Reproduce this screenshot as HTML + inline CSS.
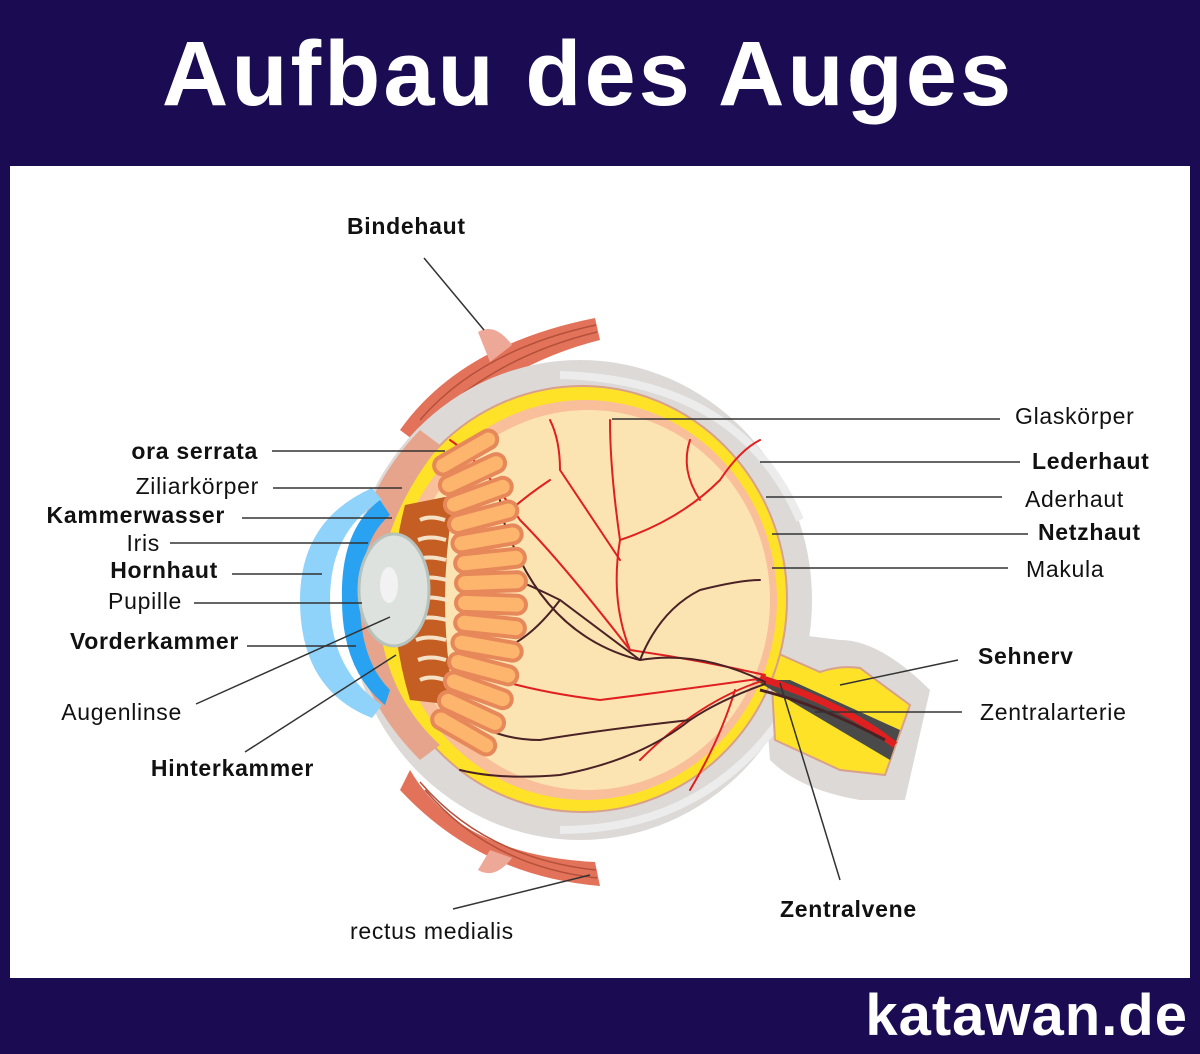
<!DOCTYPE html>
<html><head><meta charset="utf-8"><style>
html,body{margin:0;padding:0;}
body{width:1200px;height:1054px;background:#1b0b52;position:relative;overflow:hidden;font-family:"Liberation Sans",sans-serif;}
.title{position:absolute;left:0;width:1176px;top:22px;text-align:center;color:#fff;font-weight:bold;font-size:92px;letter-spacing:3px;}
.panel{position:absolute;left:10px;top:166px;width:1180px;height:812px;background:#fff;}
.foot{position:absolute;right:12px;top:982px;color:#fff;font-weight:bold;font-size:58px;letter-spacing:1px;}
svg{position:absolute;left:0;top:0;}
</style></head><body>
<div class="title">Aufbau des Auges</div>
<div class="panel"></div>
<div class="foot">katawan.de</div>
<svg width="1200" height="1054" viewBox="0 0 1200 1054" font-family="Liberation Sans, sans-serif" font-size="23" letter-spacing="0.7">
<!-- muscles -->
<path d="M400,430 Q460,345 595,318 L600,340 Q500,365 420,445 Z" fill="#e2735a"/>
<path d="M420,420 Q480,350 596,325 M425,428 Q490,358 597,332" stroke="#b5503a" stroke-width="1.5" fill="none"/>
<path d="M478,332 Q495,322 512,345 L490,362 Z" fill="#eea898"/>
<path d="M410,770 Q460,855 595,862 L600,886 Q480,876 400,790 Z" fill="#e2735a"/>
<path d="M420,782 Q485,858 596,870 M425,790 Q490,866 597,878" stroke="#b5503a" stroke-width="1.5" fill="none"/>
<path d="M478,870 Q495,880 512,858 L490,850 Z" fill="#eea898"/>
<!-- optic nerve sheath -->
<path d="M760,630 L840,640 Q880,640 930,690 L905,800 L860,800 Q800,790 770,760 Z" fill="#dcd9d7"/>
<!-- sclera -->
<ellipse cx="580" cy="600" rx="232" ry="240" fill="#dcd9d7"/>
<path d="M560,375 Q740,380 800,520" stroke="#ececec" stroke-width="8" fill="none"/>
<path d="M780,720 Q700,830 560,830" stroke="#ececec" stroke-width="8" fill="none"/>
<!-- nerve yellow -->
<path d="M770,650 L820,672 Q840,665 860,668 L910,705 L885,775 L840,770 L775,740 Z" fill="#fde228" stroke="#d9a08c" stroke-width="2"/>
<!-- yellow choroid -->
<ellipse cx="582" cy="599" rx="205" ry="213" fill="#fde228" stroke="#d9a08c" stroke-width="2"/>
<ellipse cx="585" cy="600" rx="192" ry="200" fill="#f8bf9a"/>
<ellipse cx="588" cy="600" rx="182" ry="190" fill="#fce4b2"/>
<!-- nerve vessels -->
<path d="M755,680 L790,680 L900,730 L890,760 Z" fill="#4a4a4a"/>
<path d="M760,678 Q800,690 840,710 Q870,725 895,745" stroke="#e02020" stroke-width="7" fill="none"/>
<path d="M760,690 Q820,705 885,740" stroke="#4a2226" stroke-width="3" fill="none"/>
<!-- vessels -->
<g fill="none" stroke-linecap="round">
<g stroke="#e02020" stroke-width="2">
<path d="M765,675 Q700,660 630,650 Q610,600 620,540 Q610,470 610,420"/>
<path d="M630,650 Q560,560 520,520 Q480,460 450,440"/>
<path d="M620,560 Q580,500 560,470 Q560,440 550,420"/>
<path d="M765,680 Q700,700 640,760"/>
<path d="M765,678 Q680,690 600,700 Q520,690 470,670"/>
<path d="M620,540 Q680,520 720,480 Q740,450 760,440"/>
<path d="M700,500 Q680,470 690,440"/>
<path d="M550,480 Q520,500 500,520"/>
<path d="M735,690 Q720,740 690,790"/>
</g>
<g stroke="#4a2226" stroke-width="2">
<path d="M765,682 Q700,650 640,660 Q600,630 560,600 Q520,580 490,570"/>
<path d="M640,660 Q660,610 700,590 Q740,580 760,580"/>
<path d="M765,684 Q720,700 690,720 Q640,760 560,775 Q500,780 460,770"/>
<path d="M690,720 Q600,730 540,740 Q500,740 470,720"/>
<path d="M560,600 Q530,640 500,650"/>
<path d="M640,660 Q560,640 520,560 Q500,520 500,500"/>
</g>
</g>
<!-- ciliary area -->
<path d="M440,445 Q380,520 378,600 Q380,690 440,745 L420,760 Q350,690 350,600 Q352,500 420,430 Z" fill="#e6a48c"/>
<path d="M405,505 Q380,600 410,700 L455,705 Q435,600 455,495 Z" fill="#c45e22"/>
<g stroke="#f5e1c6" stroke-width="4" fill="none">
<path d="M420,520 q10,-5 25,0"/><path d="M418,540 q12,-5 28,0"/><path d="M416,560 q12,-5 30,0"/><path d="M415,580 q12,-5 32,0"/><path d="M415,600 q12,-5 32,0"/><path d="M415,620 q12,-5 32,0"/><path d="M416,640 q12,-5 30,0"/><path d="M418,660 q12,-5 28,0"/><path d="M420,680 q10,-5 25,0"/>
</g>
<!-- rods -->
<g fill="#fdb46c" stroke="#e6885a" stroke-width="4">
<rect x="-40" y="-9" width="70" height="18" rx="9" transform="translate(470,450) rotate(-30)"/>
<rect x="-40" y="-9" width="70" height="18" rx="9" transform="translate(477,472) rotate(-25)"/>
<rect x="-40" y="-9" width="70" height="18" rx="9" transform="translate(483,494) rotate(-20)"/>
<rect x="-40" y="-9" width="70" height="18" rx="9" transform="translate(488,516) rotate(-15)"/>
<rect x="-40" y="-9" width="70" height="18" rx="9" transform="translate(492,538) rotate(-10)"/>
<rect x="-40" y="-9" width="70" height="18" rx="9" transform="translate(495,560) rotate(-6)"/>
<rect x="-40" y="-9" width="70" height="18" rx="9" transform="translate(496,582) rotate(-2)"/>
<rect x="-40" y="-9" width="70" height="18" rx="9" transform="translate(496,604) rotate(2)"/>
<rect x="-40" y="-9" width="70" height="18" rx="9" transform="translate(495,626) rotate(6)"/>
<rect x="-40" y="-9" width="70" height="18" rx="9" transform="translate(492,648) rotate(10)"/>
<rect x="-40" y="-9" width="70" height="18" rx="9" transform="translate(488,670) rotate(15)"/>
<rect x="-40" y="-9" width="70" height="18" rx="9" transform="translate(483,692) rotate(20)"/>
<rect x="-40" y="-9" width="70" height="18" rx="9" transform="translate(476,714) rotate(25)"/>
<rect x="-40" y="-9" width="70" height="18" rx="9" transform="translate(468,735) rotate(30)"/>
</g>
<!-- cornea -->
<path d="M372,488 Q300,520 300,600 Q300,690 372,718 L382,705 Q330,670 330,600 Q330,530 382,500 Z" fill="#8fd3fb"/>
<path d="M380,500 Q340,530 342,600 Q342,670 385,705 L390,690 Q360,660 360,600 Q360,540 390,515 Z" fill="#2aa2f2"/>
<!-- lens -->
<ellipse cx="394" cy="590" rx="35" ry="56" fill="#dde2df" stroke="#b8c2bd" stroke-width="3"/>
<ellipse cx="389" cy="585" rx="9" ry="18" fill="#f2f2f2"/>
<!-- lines -->
<g stroke="#333" stroke-width="1.5">
<line x1="424" y1="258" x2="484" y2="330"/>
<line x1="453" y1="909" x2="590" y2="875"/>
<line x1="272" y1="451" x2="445" y2="451"/>
<line x1="273" y1="488" x2="402" y2="488"/>
<line x1="242" y1="518" x2="392" y2="518"/>
<line x1="170" y1="543" x2="368" y2="543"/>
<line x1="232" y1="574" x2="322" y2="574"/>
<line x1="194" y1="603" x2="362" y2="603"/>
<line x1="247" y1="646" x2="356" y2="646"/>
<line x1="196" y1="704" x2="390" y2="617"/>
<line x1="245" y1="752" x2="396" y2="655"/>
<line x1="612" y1="419" x2="1000" y2="419"/>
<line x1="760" y1="462" x2="1020" y2="462"/>
<line x1="766" y1="497" x2="1002" y2="497"/>
<line x1="772" y1="534" x2="1028" y2="534"/>
<line x1="772" y1="568" x2="1008" y2="568"/>
<line x1="958" y1="660" x2="840" y2="685"/>
<line x1="815" y1="712" x2="962" y2="712"/>
<line x1="780" y1="683" x2="840" y2="880"/>
</g>
<!-- labels -->
<g fill="#111">
<text x="347" y="234" font-weight="bold">Bindehaut</text>
<text x="350" y="939">rectus medialis</text>
<text x="258" y="459" text-anchor="end" font-weight="bold">ora serrata</text>
<text x="259" y="494" text-anchor="end">Ziliarkörper</text>
<text x="225" y="523" text-anchor="end" font-weight="bold">Kammerwasser</text>
<text x="160" y="551" text-anchor="end">Iris</text>
<text x="218" y="578" text-anchor="end" font-weight="bold">Hornhaut</text>
<text x="182" y="609" text-anchor="end">Pupille</text>
<text x="239" y="649" text-anchor="end" font-weight="bold">Vorderkammer</text>
<text x="182" y="720" text-anchor="end">Augenlinse</text>
<text x="314" y="776" text-anchor="end" font-weight="bold">Hinterkammer</text>
<text x="1015" y="424">Glaskörper</text>
<text x="1032" y="469" font-weight="bold">Lederhaut</text>
<text x="1025" y="507">Aderhaut</text>
<text x="1038" y="540" font-weight="bold">Netzhaut</text>
<text x="1026" y="577">Makula</text>
<text x="978" y="664" font-weight="bold">Sehnerv</text>
<text x="980" y="720">Zentralarterie</text>
<text x="780" y="917" font-weight="bold">Zentralvene</text>
</g>
</svg>
</body></html>
